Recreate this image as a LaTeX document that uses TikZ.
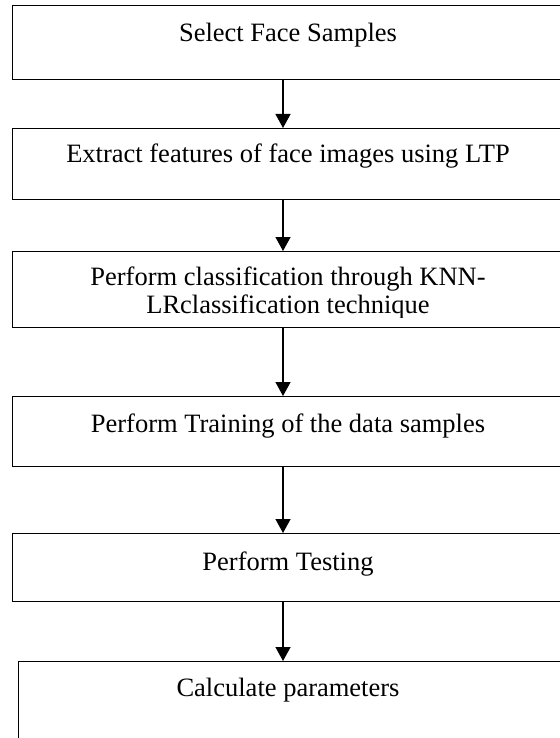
\documentclass[tikz,border=0pt]{standalone}
\usepackage{fontspec}
\setmainfont{Liberation Serif}
\usetikzlibrary{arrows.meta}

\tikzset{
  stage/.style={draw, line width=1.3pt, inner sep=0pt, anchor=north west, minimum width=560pt},
  caption/.style={anchor=base, inner sep=0pt, align=center, font=\fontsize{26.5}{28}\selectfont},
  flow/.style={-{Triangle[length=14pt,width=15pt]}, line width=1.3pt}
}

\begin{document}
\begin{tikzpicture}[x=1pt,y=-1pt]
  \useasboundingbox (0,0) rectangle (559,738);
  \coordinate (axis) at (283,0);
  % the six stages (they run off the right edge)
  \node[stage, minimum height=74pt] (select)   at (12,5)   {};
  \node[stage, minimum height=71pt] (extract)  at (12,128) {};
  \node[stage, minimum height=76pt] (classify) at (12,251) {};
  \node[stage, minimum height=70pt] (train)    at (12,396) {};
  \node[stage, minimum height=68pt] (test)     at (12,533) {};
  \node[stage, minimum height=95pt] (calc)     at (18,661) {};

  % texts
  \node[caption] (tselect)  at (288,42)  {Select Face Samples};
  \node[caption] (textract) at (288,163) {Extract features of face images using LTP};
  \node[caption] (tclass1)  at (288,285) {Perform classification through KNN-};
  \begin{scope}
    \clip (12,251) rectangle (572,317);
    \node[caption] (tclass2) at (288,313) {LRclassification technique};
  \end{scope}
  \node[caption] (ttrain) at (288,432) {Perform Training of the data samples};
  \node[caption] (ttest)  at (288,570) {Perform Testing};
  \node[caption] (tcalc)  at (288,696) {Calculate parameters};

  % arrows
  \draw[flow] (select.south -| axis) -- (extract.north -| axis);
  \draw[flow] (extract.south -| axis) -- (classify.north -| axis);
  \draw[flow] (classify.south -| axis) -- (train.north -| axis);
  \draw[flow] (train.south -| axis) -- (test.north -| axis);
  \draw[flow] (test.south -| axis) -- (calc.north -| axis);
\end{tikzpicture}
\end{document}
